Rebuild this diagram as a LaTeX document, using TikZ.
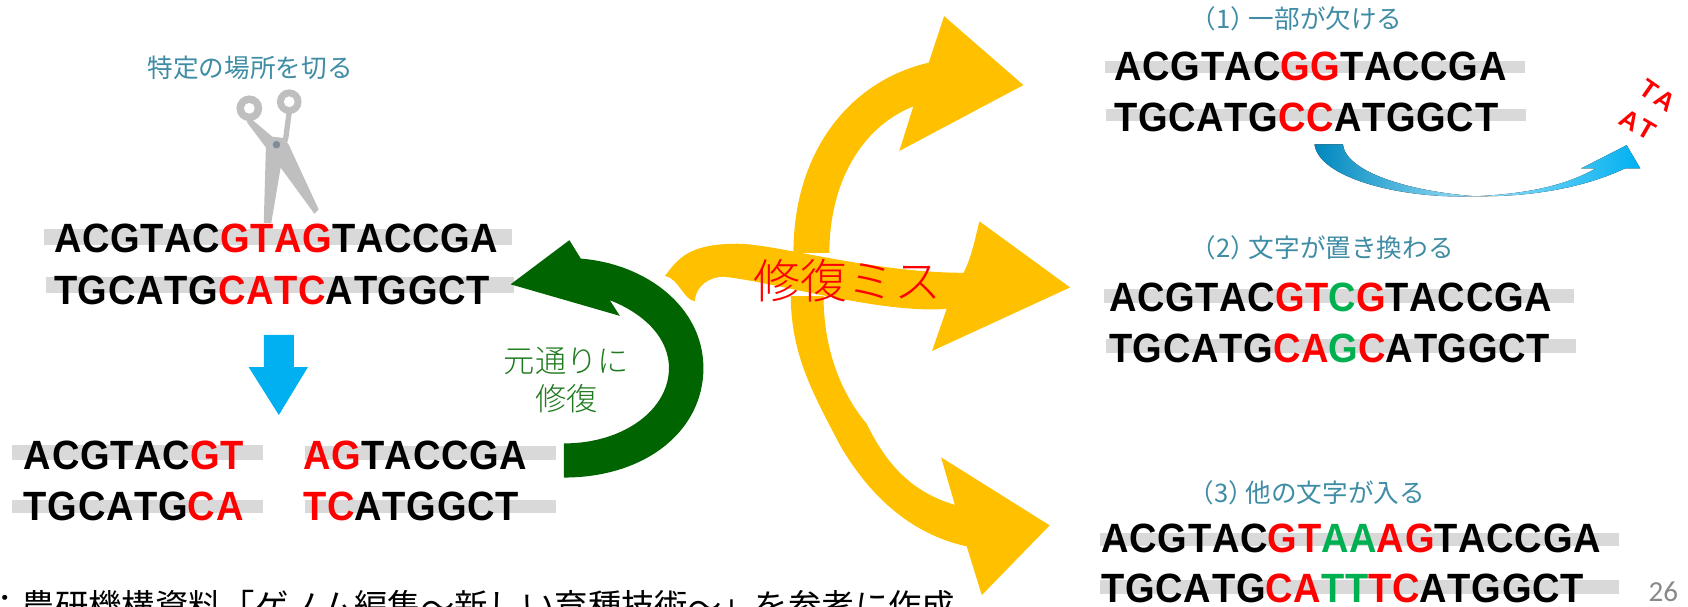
\documentclass[tikz,border=0pt]{standalone}
\usepackage{fontspec}
\setmainfont{Liberation Sans}
\newfontfamily\dnafont{Liberation Sans}[BoldFont={Liberation Sans Bold}, FakeStretch=0.93, LetterSpace=1.7, Kerning=Off]
\newfontfamily\lostfont{Liberation Sans}[BoldFont={Liberation Sans Bold}, LetterSpace=8, Kerning=Off]
\newfontfamily\jpfont{Noto Sans CJK JP}
\newfontfamily\jpthin{Noto Sans CJK JP Light}
\newfontfamily\pagefont{Carlito}
\usetikzlibrary{positioning}

\definecolor{dnared}{HTML}{FF0000}
\definecolor{dnagreen}{HTML}{00B050}
\definecolor{barhue}{HTML}{D9D9D9}
\definecolor{labelblue}{HTML}{3F8CA5}
\definecolor{repairgreen}{HTML}{006400}
\definecolor{repairtext}{HTML}{1F7A1F}
\definecolor{missyellow}{HTML}{FFC000}
\definecolor{cutblue}{HTML}{00B0F0}
\definecolor{swooshblue}{HTML}{0088BE}
\definecolor{cutgray}{HTML}{BFBFBF}
\definecolor{pivotgray}{HTML}{7F8C9A}
\definecolor{pagegray}{HTML}{898989}

\newcommand{\rd}[1]{\textcolor{dnared}{#1}}
\newcommand{\gn}[1]{\textcolor{dnagreen}{#1}}

\begin{document}
\begin{tikzpicture}[x=1pt, y=-1pt]
	\tikzset{
		strand/.style = {anchor=base west, inner sep=0pt, font=\dnafont\bfseries\fontsize{38}{38}\selectfont},
		bar/.style = {fill=barhue, draw=none},
		caselabel/.style = {anchor=west, inner sep=0pt, text=labelblue, font=\jpfont\fontsize{23.8}{23.8}\selectfont},
		repairlabel/.style = {inner sep=0pt, text=repairtext, font=\jpthin\fontsize{29}{29}\selectfont},
		lost/.style = {inner sep=0pt, text=dnared, font=\lostfont\bfseries\fontsize{24}{24}\selectfont}
	}
	\useasboundingbox (0,0) rectangle (1568,563);

	% Grey bars behind the strands
	\fill [bar] (41,213) rectangle (476,227.5);
	\fill [bar] (42.5,257.5) rectangle (477,272);
	\fill [bar] (11,413.5) rectangle (244.5,427.5);
	\fill [bar] (11,464) rectangle (244.5,476.5);
	\fill [bar] (283.5,414) rectangle (516.5,427.5);
	\fill [bar] (283.5,464) rectangle (516.5,476.5);
	\fill [bar] (1026.5,57) rectangle (1416.5,68);
	\fill [bar] (1027,101.5) rectangle (1417.5,112.5);
	\fill [bar] (1025.5,268.5) rectangle (1462,281);
	\fill [bar] (1027,314.5) rectangle (1464,327.5);
	\fill [bar] (1022,495) rectangle (1504,507.5);
	\fill [bar] (1022,539) rectangle (1504,552);

	% Scissors
	\fill [cutgray] (268.7,94.5) circle (11.5);
	\fill [cutgray] (231.6,100.6) circle (12);
	\fill [white] (268.7,94.5) circle (5);
	\fill [white] (231.6,100.6) circle (5);
	\fill [cutgray] (271,105) -- (266,105) -- (263,128) -- (247,137) -- (245,207) -- (252,207) -- (261,154) -- (268,128) -- cycle;
	\fill [cutgray] (234,111) -- (229,113) -- (247,137) -- (292,198.5) -- (296,194.5) -- (268,134) -- (262,128) -- (253,127) -- cycle;
	\fill [pivotgray] (256.8,134.4) circle (3.5);

	% Strands
	\node (cuttop) [strand] at (50,235) {ACGTAC\rd{GTAG}TACCGA};
	\node (cutbottom) [strand] at (50,283) {TGCATG\rd{CATC}ATGGCT};
	\node (lefttop) [strand] at (22,436.5) {ACGTAC\rd{GT}};
	\node (leftbottom) [strand] at (22,483.5) {TGCATG\rd{CA}};
	\node (righttop) [strand] at (281.5,436.5) {\rd{AG}TACCGA};
	\node (rightbottom) [strand] at (281.5,483.5) {\rd{TC}ATGGCT};
	\node (onetop) [strand] at (1035,74.5) {ACGTAC\rd{GG}TACCGA};
	\node (onebottom) [strand] at (1035,122.5) {TGCATG\rd{CC}ATGGCT};
	\node (twotop) [strand] at (1030,289.5) {ACGTAC\rd{GT}\gn{C}\rd{G}TACCGA};
	\node (twobottom) [strand] at (1030,337) {TGCATG\rd{CA}\gn{G}\rd{C}ATGGCT};
	\node (threetop) [strand] at (1023,513.5) {ACGTAC\rd{GT}\gn{AA}\rd{AG}TACCGA};
	\node (threebottom) [strand] at (1023,559.5) {TGCATG\rd{CA}\gn{TT}\rd{TC}ATGGCT};

	% Labels
	\node (cutlabel) [caselabel] at (137,63) {特定の場所を切る};
	\node (onelabel) [caselabel] at (1106,17) {（1）\hspace{-7pt}一部が欠ける};
	\node (twolabel) [caselabel] at (1106,230) {（2）\hspace{-7pt}文字が置き換わる};
	\node (threelabel) [caselabel] at (1104,458) {（3）\hspace{-8pt}他の文字が入る};
	\node (repairone) [repairlabel] at (526,335) {元通りに};
	\node (repairtwo) [repairlabel] at (526,370) {修復};
	\node (source) [anchor=west, inner sep=0pt, font=\jpfont\fontsize{31}{31}\selectfont] at (-11,563) {：農研機構資料「ゲノム編集～新しい育種技術～」を参考に作成};
	\node (pagenum) [inner sep=0pt, text=pagegray, font=\pagefont\fontsize{27}{27}\selectfont] at (1545,550) {26};

	% Cut arrow
	\fill [cutblue] (245,311) -- (273,311) -- (273,341) -- (286,341) -- (259,385.5) -- (231,341) -- (245,341) -- cycle;

	% Repair arrow
	\fill [repairgreen] (523.7,443.6) .. controls (600,443.6) and (653.4,400) .. (653.4,341.9)
		.. controls (653.4,285) and (600,245) .. (539.5,240.2) -- (528.9,223.1) -- (474.3,264.1) -- (575.8,293.4) -- (566.4,278.8)
		.. controls (600,292) and (621.4,315) .. (621.4,341.9) .. controls (621.4,380) and (580,411.9) .. (523.7,411.9) -- cycle;

	% Misrepair arrows
	\fill [missyellow] (877,15) -- (950.6,79) -- (835.4,140.2) -- (848.4,98.8)
		.. controls (800,118) and (770.4,170) .. (770.4,235) -- (737,235)
		.. controls (737,140) and (790,75) .. (862.7,58.2) -- cycle;
	\fill [missyellow] (617.7,256.3) .. controls (630,240) and (640,226.4) .. (685,226.4)
		.. controls (720,226.4) and (810,253.4) .. (895,253.4) .. controls (902,240) and (905,225) .. (909.8,205.6)
		-- (994,267) -- (865.8,326) -- (879.4,286.8)
		.. controls (820,292) and (720,262) .. (672,257) .. controls (660,257) and (646,265) .. (645.6,279.6)
		.. controls (636,280) and (630,258) .. (617.7,256.3) -- cycle;
	\fill [missyellow] (734.5,275) .. controls (735,330) and (755,365) .. (780,413)
		.. controls (810,465) and (850,497) .. (898,507.5) -- (912,552.8) -- (975,488) -- (874.2,424.8) -- (887,469)
		.. controls (850,458) and (825,435) .. (805,393.5) .. controls (785,370) and (765,330) .. (765,275) -- cycle;
	\node (misslabel) [inner sep=0pt, text=dnared, font=\jpthin\fontsize{43.5}{43.5}\selectfont] at (787,261) {修復ミス};

	% Lost pair arrow
	\fill [left color=swooshblue, middle color=swooshblue!85, right color=cutblue!40] (1221,134) -- (1247.4,134)
		.. controls (1250,160) and (1310,178) .. (1370.6,182.3)
		.. controls (1300,185) and (1225,165) .. (1221,134) -- cycle;
	\fill [left color=cutblue!40, right color=cutblue] (1370.6,182.3) .. controls (1420,180) and (1455,172) .. (1482.3,156.5)
		-- (1468.6,156.5) -- (1511,134.9) -- (1523.7,156.5) -- (1509.3,156.5)
		.. controls (1470,175) and (1420,183) .. (1370.6,182.3) -- cycle;
	\node (lostta) [lost, rotate=-35] at (1540,89) {TA};
	\node (lostat) [lost, rotate=-30] at (1521,116) {AT};
\end{tikzpicture}
\end{document}
